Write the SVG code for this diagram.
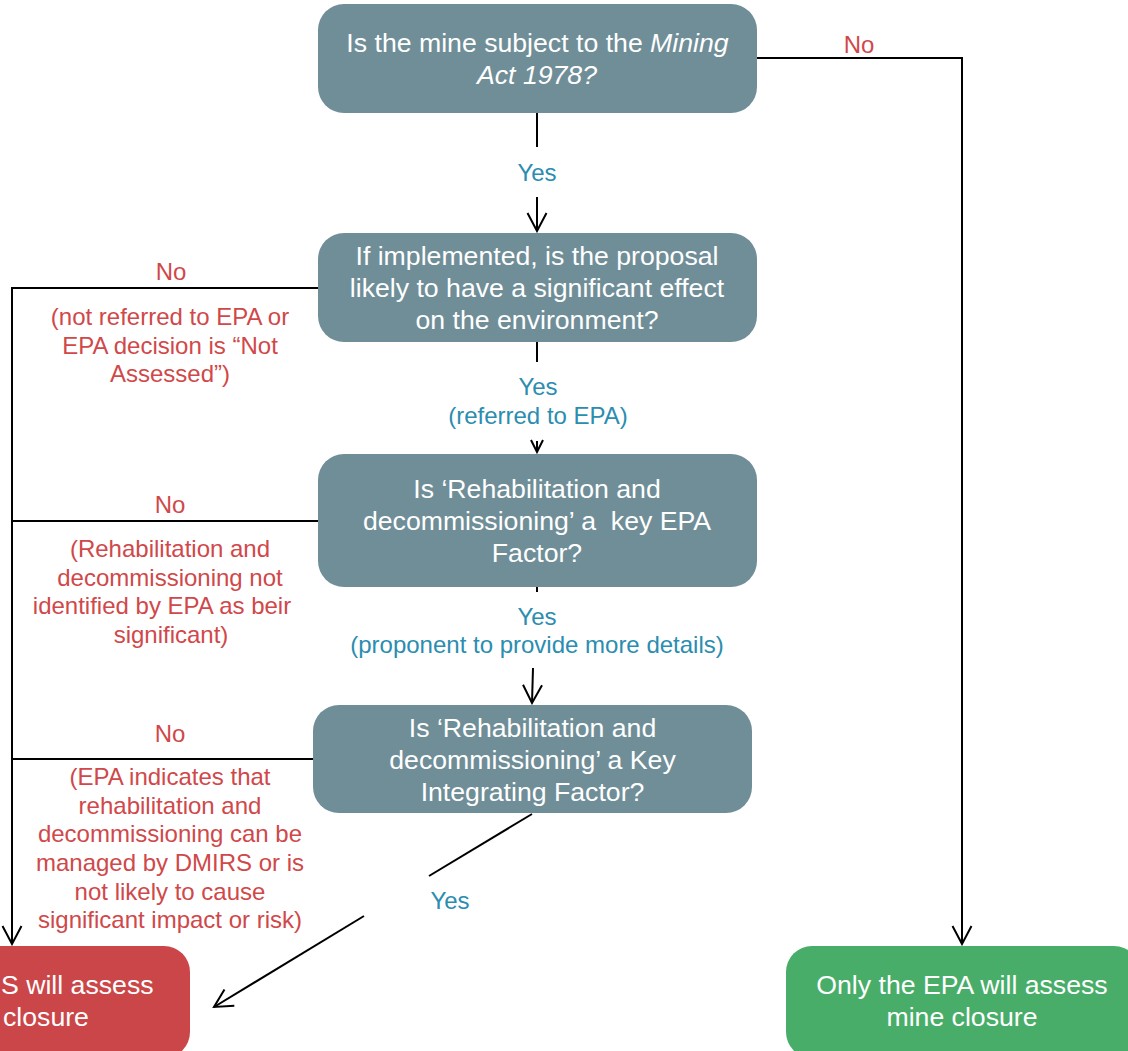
<svg xmlns="http://www.w3.org/2000/svg" width="1128" height="1051" viewBox="0 0 1128 1051">
<style>
.node{fill:#708E98}
.nt{font-family:"Liberation Sans",Arial,sans-serif;font-size:26.67px;fill:#ffffff;text-anchor:middle}
.lbl{font-family:"Liberation Sans",Arial,sans-serif;font-size:24px;text-anchor:middle}
.no{fill:#D0484A}
.yes{fill:#2B8DB0}
.ln{fill:none;stroke:#000000;stroke-width:2}
</style>
<defs>
<marker id="arr" viewBox="-21 -11 23 22" refX="0" refY="0" markerWidth="23" markerHeight="22" markerUnits="userSpaceOnUse" orient="auto">
<path d="M-18,-9.5 L0,0 L-18,9.5" fill="none" stroke="#000" stroke-width="2"/>
</marker>
<marker id="arrs" viewBox="-14 -8 16 16" refX="0" refY="0" markerWidth="16" markerHeight="16" markerUnits="userSpaceOnUse" orient="auto">
<path d="M-12,-6 L0,0 L-12,6" fill="none" stroke="#000" stroke-width="2"/>
</marker>
</defs>
<rect width="1128" height="1051" fill="#ffffff"/>

<g id="connectors">
<polyline class="ln" points="757,58 962,58 962,944" marker-end="url(#arr)"/>
<line class="ln" x1="537" y1="113" x2="537" y2="147"/>
<line class="ln" x1="537" y1="197" x2="537" y2="231" marker-end="url(#arr)"/>
<line class="ln" x1="537" y1="342" x2="537" y2="362"/>
<line class="ln" x1="537" y1="441" x2="537" y2="452" marker-end="url(#arrs)"/>
<line class="ln" x1="537" y1="587" x2="537" y2="592"/>
<line class="ln" x1="533" y1="668" x2="532" y2="703" marker-end="url(#arr)"/>
<line class="ln" x1="532" y1="814" x2="429" y2="876"/>
<line class="ln" x1="364" y1="916" x2="214" y2="1007" marker-end="url(#arr)"/>
<polyline class="ln" points="318,288 12,288 12,944" marker-end="url(#arr)"/>
<line class="ln" x1="318" y1="521" x2="12" y2="521"/>
<line class="ln" x1="313" y1="759" x2="12" y2="759"/>
</g>

<g id="labels">
<text class="lbl no" x="859" y="53">No</text>
<text class="lbl yes" x="537" y="181">Yes</text>
<text class="lbl yes" x="538" y="395">Yes</text>
<text class="lbl yes" x="538" y="424">(referred to EPA)</text>
<text class="lbl yes" x="537" y="625">Yes</text>
<text class="lbl yes" x="537" y="653">(proponent to provide more details)</text>
<text class="lbl yes" x="450" y="909">Yes</text>
<text class="lbl no" x="171" y="280">No</text>
<text class="lbl no" x="170" y="325">(not referred to EPA or</text>
<text class="lbl no" x="170" y="353.5">EPA decision is “Not</text>
<text class="lbl no" x="170" y="382">Assessed”)</text>
<text class="lbl no" x="170" y="513">No</text>
<text class="lbl no" x="170" y="557">(Rehabilitation and</text>
<text class="lbl no" x="170" y="586">decommissioning not</text>
<text class="lbl no" x="162" y="614">identified by EPA as beir</text>
<text class="lbl no" x="171" y="643">significant)</text>
<text class="lbl no" x="170" y="742">No</text>
<text class="lbl no" x="170" y="785">(EPA indicates that</text>
<text class="lbl no" x="170" y="814">rehabilitation and</text>
<text class="lbl no" x="170" y="842">decommissioning can be</text>
<text class="lbl no" x="170" y="871">managed by DMIRS or is</text>
<text class="lbl no" x="170" y="900">not likely to cause</text>
<text class="lbl no" x="170" y="928">significant impact or risk)</text>
</g>

<g id="n1">
<rect class="node" x="318" y="4" width="439" height="109" rx="26"/>
<text class="nt" x="537.5" y="52">Is the mine subject to the <tspan font-style="italic">Mining</tspan></text>
<text class="nt" x="537" y="84" font-style="italic">Act 1978?</text>
</g>
<g id="n2">
<rect class="node" x="318" y="233" width="439" height="109" rx="26"/>
<text class="nt" x="537" y="265">If implemented, is the proposal</text>
<text class="nt" x="537" y="297">likely to have a significant effect</text>
<text class="nt" x="537" y="329">on the environment?</text>
</g>
<g id="n3">
<rect class="node" x="318" y="454" width="439" height="133" rx="26"/>
<text class="nt" x="537" y="498">Is ‘Rehabilitation and</text>
<text class="nt" x="537" y="530" style="white-space:pre">decommissioning’ a  key EPA</text>
<text class="nt" x="537" y="562">Factor?</text>
</g>
<g id="n4">
<rect class="node" x="313" y="705" width="439" height="108" rx="26"/>
<text class="nt" x="532.5" y="737">Is ‘Rehabilitation and</text>
<text class="nt" x="532.5" y="769">decommissioning’ a Key</text>
<text class="nt" x="532.5" y="801">Integrating Factor?</text>
</g>
<g id="dmirs">
<rect x="-164" y="946" width="354" height="112" rx="26" fill="#CB4648"/>
<text class="nt" x="1" y="994" style="text-anchor:start">S will assess</text>
<text class="nt" x="3" y="1026" style="text-anchor:start">closure</text>
</g>
<g id="epa">
<rect x="786" y="946" width="354" height="112" rx="26" fill="#48AD69"/>
<text class="nt" x="962" y="994">Only the EPA will assess</text>
<text class="nt" x="962" y="1026">mine closure</text>
</g>
</svg>
